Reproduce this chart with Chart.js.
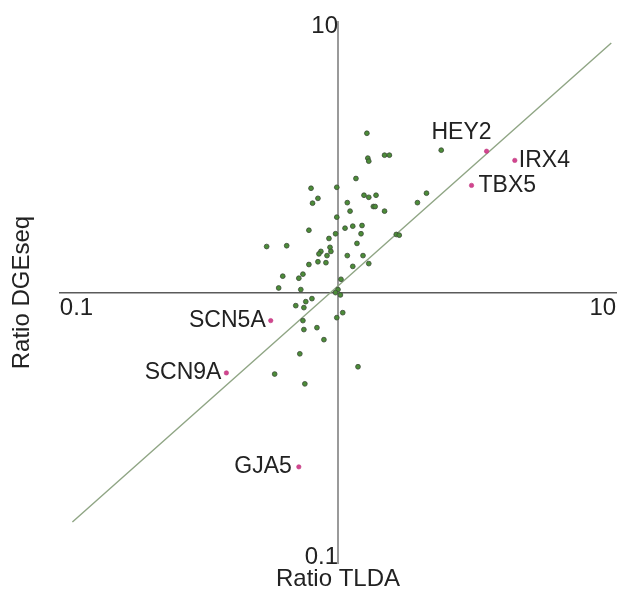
<!DOCTYPE html>
<html>
<head>
<meta charset="utf-8">
<script src="https://cdn.jsdelivr.net/npm/chart.js@4"></script>
<style>
  html, body { margin: 0; padding: 0; background: #ffffff; }
  #wrap { width: 621px; height: 606px; }
</style>
</head>
<body>
<div id="wrap"><canvas id="c"></canvas></div>
<script>
// ---- data ----
const tldaRatio = [1.27,2.35,1.28,1.29,1.47,1.53,1.16,0.80,0.99,0.847,0.81,1.08,1.24,1.29,1.37,1.34,1.36,1.105,1.47,1.93,2.08,0.99,0.786,1.06,1.13,1.22,1.21,0.98,0.928,1.17,1.62,1.66,0.554,0.654,0.868,0.854,0.936,0.943,0.913,0.847,0.905,1.08,1.23,0.786,1.13,1.29,0.633,0.723,0.748,1.025,0.612,0.735,1.0,0.98,1.02,0.806,0.705,0.766,0.754,0.99,1.04,0.748,0.754,0.84,0.89,0.729,1.18,0.592,0.76];
const dgeRatio = [3.88,3.36,3.14,3.06,3.22,3.22,2.64,2.43,2.45,2.23,2.14,2.15,2.29,2.25,2.29,2.08,2.08,2.0,2.0,2.15,2.33,1.90,1.70,1.73,1.76,1.77,1.65,1.65,1.585,1.52,1.64,1.63,1.48,1.49,1.42,1.39,1.47,1.42,1.37,1.30,1.29,1.37,1.37,1.27,1.25,1.28,1.15,1.13,1.17,1.12,1.04,1.026,1.026,1.0,0.98,0.95,0.895,0.926,0.88,0.808,0.843,0.788,0.73,0.742,0.67,0.594,0.532,0.50,0.46];

const highlightNames = ['HEY2','IRX4','TBX5','SCN5A','SCN9A','GJA5'];
const highlightTLDA  = [3.42, 4.32, 3.02, 0.573, 0.397, 0.723];
const highlightDGE   = [3.33, 3.08, 2.49, 0.788, 0.505, 0.227];

const diagonalTLDA = [0.111, 9.6];
const diagonalDGE  = [0.142, 8.36];

const xTickValues = [0.1, 10];
const yTopTick = [10];
const yBottomTick = [0.1];

// ---- build chart ----
const genePoints = tldaRatio.map((v, i) => ({x: v, y: dgeRatio[i]}));
const hiPoints = highlightTLDA.map((v, i) => ({x: v, y: highlightDGE[i]}));
const diagPoints = diagonalTLDA.map((v, i) => ({x: v, y: diagonalDGE[i]}));

const FONT = "'Liberation Sans', Arial, Helvetica, sans-serif";
const TXT = '#222222';

// label placement style: [dx, dy, textAlign]
const labelStyle = {
  HEY2:  [5, -19, 'right'],
  IRX4:  [4, 0, 'left'],
  TBX5:  [7, 0, 'left'],
  SCN5A: [-5, 0, 'right'],
  SCN9A: [-5, 0, 'right'],
  GJA5:  [-7, 0, 'right']
};

const geneLabels = {
  id: 'geneLabels',
  afterDatasetsDraw(chart) {
    const meta = chart.getDatasetMeta(2);
    const ctx = chart.ctx;
    ctx.save();
    ctx.font = '23px ' + FONT;
    ctx.fillStyle = TXT;
    ctx.textBaseline = 'middle';
    meta.data.forEach((el, i) => {
      const name = highlightNames[i];
      const s = labelStyle[name];
      ctx.textAlign = s[2];
      ctx.fillText(name, el.x + s[0], el.y + s[1]);
    });
    ctx.restore();
  }
};

function onlyTicks(vals) {
  return function(scale) { scale.ticks = vals.map(v => ({value: v})); };
}
const tickFmt = v => (v >= 1 ? String(Math.round(v)) : String(v));

new Chart(document.getElementById('c'), {
  type: 'scatter',
  data: {
    datasets: [
      {
        data: diagPoints,
        showLine: true,
        borderColor: '#8fa584',
        borderWidth: 1.4,
        pointRadius: 0,
        order: 3
      },
      {
        data: genePoints,
        pointRadius: 2.4,
        backgroundColor: '#4c8c38',
        borderColor: '#3b4a37',
        borderWidth: 0.8,
        order: 2
      },
      {
        data: hiPoints,
        pointRadius: 2.2,
        backgroundColor: '#d2458f',
        borderColor: '#c03a80',
        borderWidth: 0.6,
        order: 1
      }
    ]
  },
  options: {
    responsive: true,
    maintainAspectRatio: false,
    animation: false,
    layout: { padding: { left: 4, right: 4, top: 22, bottom: 8 } },
    plugins: { legend: { display: false }, tooltip: { enabled: false } },
    scales: {
      x: {
        type: 'logarithmic', min: 0.1, max: 10,
        position: { y: 1 },
        grid: { display: false, drawTicks: false },
        border: { display: true, color: '#5a5a5a', width: 1.6 },
        afterBuildTicks: onlyTicks(xTickValues),
        ticks: { align: 'inner', padding: 1, color: TXT, font: { family: FONT, size: 24 }, callback: tickFmt, autoSkip: false, maxRotation: 0 }
      },
      y: {
        type: 'logarithmic', min: 0.1, max: 10,
        position: { x: 1 },
        grid: { display: false, drawTicks: false },
        border: { display: true, color: '#9a9a9a', width: 2 },
        afterBuildTicks: onlyTicks(yTopTick),
        ticks: { padding: 3, labelOffset: 4, color: TXT, font: { family: FONT, size: 24 }, callback: tickFmt, autoSkip: false }
      },
      y0: {
        type: 'logarithmic', min: 0.1, max: 10,
        position: { x: 1 },
        grid: { display: false, drawTicks: false },
        border: { display: false },
        afterBuildTicks: onlyTicks(yBottomTick),
        ticks: { padding: 3, labelOffset: -6, color: TXT, font: { family: FONT, size: 24 }, callback: tickFmt, autoSkip: false }
      },
      xt: {
        type: 'linear', position: 'bottom',
        grid: { display: false, drawTicks: false },
        border: { display: false },
        ticks: { display: false },
        title: { display: true, text: 'Ratio TLDA', color: TXT, font: { family: FONT, size: 24 }, padding: { top: 2, bottom: 4 } }
      },
      yt: {
        type: 'linear', position: 'left',
        grid: { display: false, drawTicks: false },
        border: { display: false },
        ticks: { display: false },
        title: { display: true, text: 'Ratio DGEseq', color: TXT, font: { family: FONT, size: 24 }, padding: { top: 4, bottom: 23 } }
      }
    }
  },
  plugins: [geneLabels]
});
</script>
</body>
</html>
